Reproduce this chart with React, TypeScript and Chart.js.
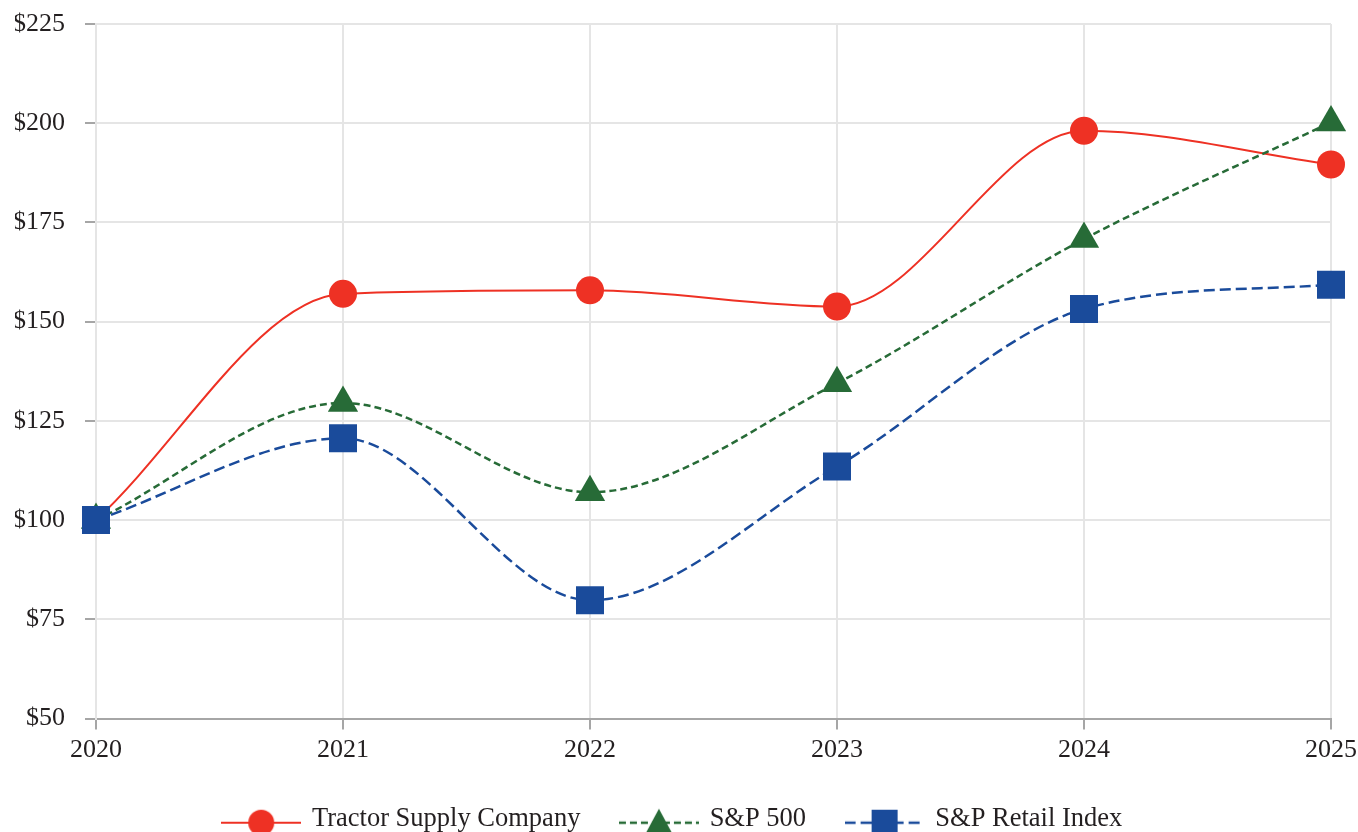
import React, { useEffect, useRef } from 'react';
import { Chart, registerables } from 'chart.js';

Chart.register(...registerables);

const years = ['2020', '2021', '2022', '2023', '2024', '2025'];
const tractorSupply = [100, 157.0, 157.9, 153.8, 198.1, 189.6];
const sp500 = [100, 129.5, 107.0, 134.5, 170.8, 200.2];
const spRetail = [100, 120.6, 79.8, 113.5, 153.2, 159.3];
const seriesNames = ['Tractor Supply Company', 'S&P 500', 'S&P Retail Index'];
const yMin = 50;
const yMax = 225;
const yStep = 25;

const RED = '#EE3124';
const GREEN = '#276B37';
const BLUE = '#1A4B9B';
const TEXT = '#231F20';
const GRID = '#E5E5E5';
const AXIS = '#A6A6A6';
const FONT = "'Liberation Serif', 'Times New Roman', serif";

function makeLegendImage(color: string, dash: number[], shape: string, width: number): HTMLCanvasElement {
  const c = document.createElement('canvas');
  c.width = 80;
  c.height = 44;
  const g = c.getContext('2d')!;
  const cy = 26;
  g.strokeStyle = color;
  g.lineWidth = width;
  g.setLineDash(dash);
  g.beginPath();
  g.moveTo(0, cy);
  g.lineTo(80, cy);
  g.stroke();
  g.setLineDash([]);
  g.fillStyle = color;
  g.beginPath();
  if (shape === 'circle') {
    g.arc(40, cy, 13, 0, Math.PI * 2);
  } else if (shape === 'triangle') {
    g.moveTo(40, cy - 14);
    g.lineTo(54, cy + 12);
    g.lineTo(26, cy + 12);
    g.closePath();
  } else {
    g.rect(27, cy - 13, 26, 26);
  }
  g.fill();
  return c;
}

export default function App() {
  const ref = useRef<HTMLCanvasElement | null>(null);

  useEffect(() => {
    document.body.style.margin = '0';
    const images = [
      makeLegendImage(RED, [], 'circle', 2),
      makeLegendImage(GREEN, [7, 4], 'triangle', 2.5),
      makeLegendImage(BLUE, [11, 5], 'rect', 2.5),
    ];
    const colors = [RED, GREEN, BLUE];
    const chart = new Chart(ref.current!, {
      type: 'line',
      data: {
        labels: years,
        datasets: [
          {
            label: seriesNames[0],
            data: tractorSupply,
            borderColor: RED,
            backgroundColor: RED,
            borderWidth: 2,
            pointStyle: 'circle',
            pointRadius: 14,
            pointBorderWidth: 0,
            cubicInterpolationMode: 'monotone',
            order: 3,
          },
          {
            label: seriesNames[1],
            data: sp500,
            borderColor: GREEN,
            backgroundColor: GREEN,
            borderWidth: 2.5,
            borderDash: [7, 4],
            pointStyle: 'triangle',
            pointRadius: 17.5,
            pointBorderWidth: 0,
            cubicInterpolationMode: 'monotone',
            order: 2,
          },
          {
            label: seriesNames[2],
            data: spRetail,
            borderColor: BLUE,
            backgroundColor: BLUE,
            borderWidth: 2.5,
            borderDash: [11, 5],
            pointStyle: 'rect',
            pointRadius: 19.8,
            pointBorderWidth: 0,
            cubicInterpolationMode: 'monotone',
            order: 1,
          },
        ],
      },
      options: {
        animation: false,
        responsive: true,
        maintainAspectRatio: false,
        layout: { padding: { top: 24, right: 27, left: 15, bottom: 0 } },
        plugins: {
          tooltip: { enabled: false },
          legend: {
            position: 'bottom',
            labels: {
              usePointStyle: true,
              pointStyleWidth: 75,
              padding: 41,
              color: TEXT,
              font: { family: FONT, size: 26.5 },
              generateLabels: (ch: any) =>
                ch.data.datasets.map((ds: any, i: number) => ({
                  text: ds.label,
                  pointStyle: images[i],
                  fillStyle: colors[i],
                  strokeStyle: colors[i],
                  lineWidth: 0,
                  fontColor: TEXT,
                  hidden: false,
                  datasetIndex: i,
                })),
            },
          },
        },
        scales: {
          x: {
            grid: { color: GRID, lineWidth: 2, tickColor: AXIS, tickLength: 11 },
            border: { color: AXIS, width: 2 },
            ticks: { color: TEXT, font: { family: FONT, size: 26 }, padding: 5, maxRotation: 0 },
            afterFit: (s: any) => {
              s.height = 46;
              s.paddingLeft = 0;
              s.paddingRight = 0;
            },
          },
          y: {
            min: yMin,
            max: yMax,
            grid: {
              color: (ctx: any) => (ctx.tick && ctx.tick.value === yMin ? AXIS : GRID),
              lineWidth: 2,
              tickColor: AXIS,
              tickLength: 11,
            },
            border: { color: GRID, width: 2 },
            ticks: {
              stepSize: yStep,
              color: TEXT,
              font: { family: FONT, size: 26 },
              padding: 20,
              callback: (v: any) => '$' + v,
            },
            afterFit: (s: any) => {
              s.width = 81;
              s.paddingTop = 0;
              s.paddingBottom = 0;
            },
          },
        },
      },
    });
    return () => chart.destroy();
  }, []);

  return (
    <div style={{ position: 'fixed', left: 0, top: 0, width: 1358, height: 842 }}>
      <canvas ref={ref} />
    </div>
  );
}
